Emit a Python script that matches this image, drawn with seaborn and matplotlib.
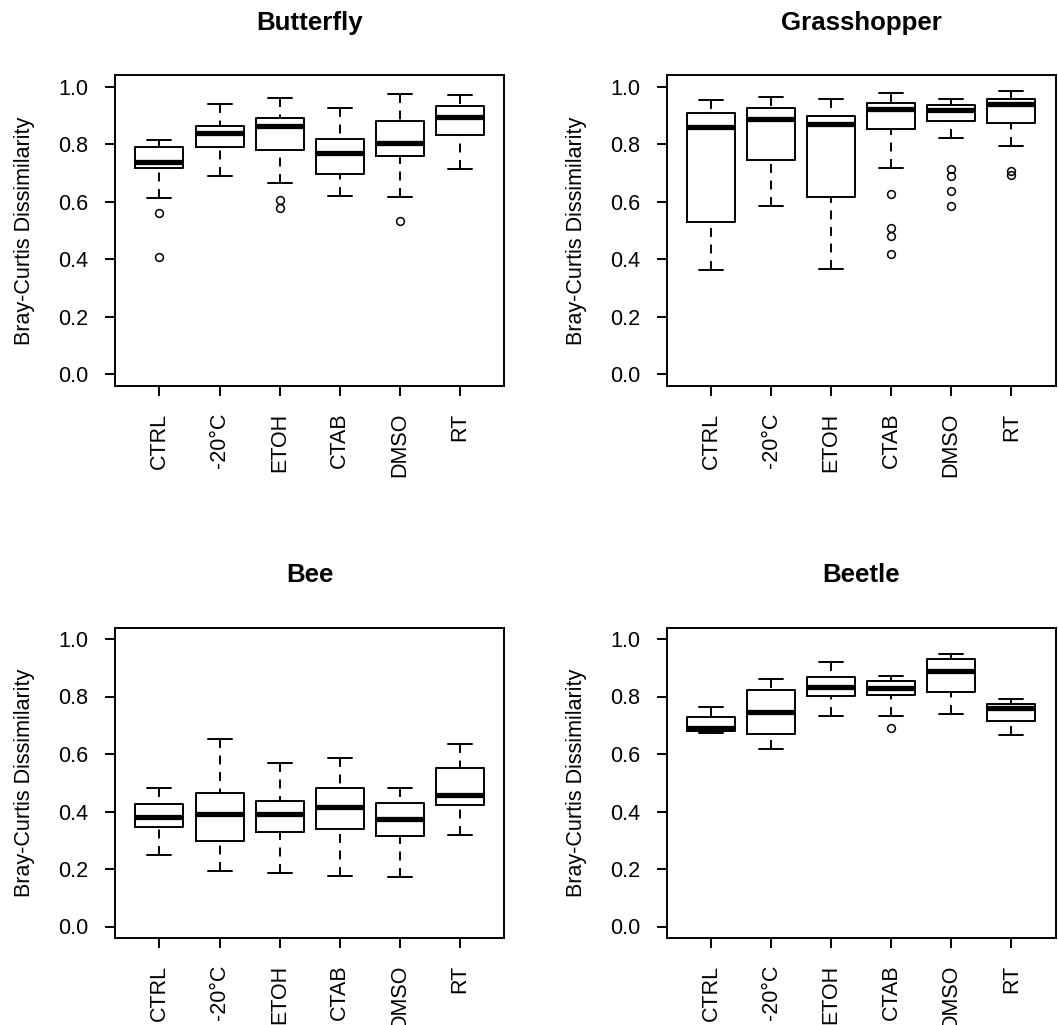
import numpy as np
import pandas as pd
import seaborn as sns
import matplotlib
matplotlib.use("Agg")
import matplotlib.pyplot as plt

treatments = ["CTRL", "-20°C", "ETOH", "CTAB", "DMSO", "RT"]
panel_titles = ["Butterfly", "Grasshopper", "Bee", "Beetle"]

# box stats: [whisker low, q1, median, q3, whisker high]
butterfly_stats = [[0.612, 0.716, 0.739, 0.791, 0.815],
                   [0.689, 0.789, 0.838, 0.864, 0.939],
                   [0.666, 0.780, 0.863, 0.890, 0.959],
                   [0.621, 0.696, 0.768, 0.818, 0.927],
                   [0.618, 0.759, 0.803, 0.880, 0.973],
                   [0.714, 0.832, 0.893, 0.934, 0.972]]
butterfly_out = [[0.407, 0.562], [], [0.578, 0.605], [], [0.533], []]

grasshopper_stats = [[0.363, 0.528, 0.859, 0.907, 0.954],
                     [0.586, 0.746, 0.886, 0.926, 0.964],
                     [0.365, 0.615, 0.869, 0.896, 0.957],
                     [0.716, 0.851, 0.921, 0.943, 0.977],
                     [0.820, 0.880, 0.917, 0.935, 0.957],
                     [0.794, 0.873, 0.940, 0.955, 0.984]]
grasshopper_out = [[], [], [], [0.418, 0.481, 0.510, 0.627],
                   [0.586, 0.636, 0.688, 0.714], [0.694, 0.705]]

bee_stats = [[0.248, 0.347, 0.381, 0.426, 0.483],
             [0.193, 0.298, 0.391, 0.465, 0.652],
             [0.186, 0.327, 0.393, 0.435, 0.570],
             [0.174, 0.339, 0.415, 0.481, 0.587],
             [0.173, 0.316, 0.374, 0.428, 0.481],
             [0.318, 0.421, 0.459, 0.552, 0.636]]
bee_out = [[], [], [], [], [], []]

beetle_stats = [[0.672, 0.681, 0.689, 0.727, 0.762],
                [0.618, 0.668, 0.745, 0.824, 0.860],
                [0.732, 0.802, 0.833, 0.868, 0.919],
                [0.733, 0.804, 0.828, 0.854, 0.870],
                [0.740, 0.814, 0.887, 0.932, 0.948],
                [0.667, 0.716, 0.759, 0.775, 0.790]]
beetle_out = [[], [], [], [0.691], [], []]


def sample_from_stats(st, outliers):
    # 4k+1 values so numpy's quartiles land exactly on q1 / median / q3
    lo, q1, med, q3, hi = st
    lows = sorted(outliers) + [lo]
    k = max(len(lows), 1)
    vals = lows + [q1] * (k - len(lows))
    vals += [q1] + [q1] * (k - 1) + [med] + [med] * (k - 1) + [q3]
    vals += [q3] * (k - 1) + [hi]
    return vals


def build_df(stats, outs):
    rows = []
    for name, st, out in zip(treatments, stats, outs):
        for v in sample_from_stats(st, out):
            rows.append((name, v))
    return pd.DataFrame(rows, columns=["treatment", "value"])


sns.set_style("ticks")
plt.rcParams["font.family"] = ["Liberation Sans", "DejaVu Sans"]
plt.rcParams["text.color"] = "black"

W, H = 1058, 1025
fig = plt.figure(figsize=(W / 100, H / 100), dpi=100)

# axes boxes in pixels: (left, top, right, bottom)
boxes = [(115, 75, 504.3, 386), (666.7, 75, 1055.7, 386),
         (115, 627.5, 504.3, 938), (666.7, 627.5, 1055.7, 938)]
panels = [(butterfly_stats, butterfly_out), (grasshopper_stats, grasshopper_out),
          (bee_stats, bee_out), (beetle_stats, beetle_out)]

for (l, t, r, b), (stats, outs), title in zip(boxes, panels, panel_titles):
    ax = fig.add_axes([l / W, 1 - b / H, (r - l) / W, (b - t) / H])
    df = build_df(stats, outs)
    sns.boxplot(data=df, x="treatment", y="value", order=treatments, ax=ax,
                fill=False, color="black", linecolor="black", linewidth=1.4,
                width=0.8, whis=1.5,
                medianprops={"linewidth": 3.8},
                whiskerprops={"linestyle": (0, (4.6, 3.9)), "gid": "whisker"},
                flierprops={"marker": "o", "markersize": 5.6,
                            "markerfacecolor": "none",
                            "markeredgecolor": "black",
                            "markeredgewidth": 1.1})
    # R draws whiskers from the cap towards the box
    for line in ax.lines:
        if line.get_gid() == "whisker":
            x, y = line.get_data()
            line.set_data(x[::-1], y[::-1])

    ax.set_xlim(-0.74, 5.74)
    ax.set_ylim(-0.04, 1.04)
    ax.set_yticks([0.0, 0.2, 0.4, 0.6, 0.8, 1.0])
    ax.set_yticklabels(["0.0", "0.2", "0.4", "0.6", "0.8", "1.0"])
    ax.set_xlabel("")
    ax.set_ylabel("Bray-Curtis Dissimilarity", fontsize=15.5, color="black",
                  va="center")
    ax.yaxis.set_label_coords(-90 / (r - l), 0.5)
    ax.set_title(title, fontsize=18.6, fontweight="bold", pad=32.4,
                 color="black")
    ax.tick_params(axis="both", direction="out", length=7.2, width=1.4,
                   pad=12, labelsize=15.5, colors="black",
                   bottom=True, left=True)
    ax.tick_params(axis="x", labelrotation=90)
    for sp in ax.spines.values():
        sp.set_visible(True)
        sp.set_color("black")
        sp.set_linewidth(1.4)

fig.savefig("out.png", dpi=100)
